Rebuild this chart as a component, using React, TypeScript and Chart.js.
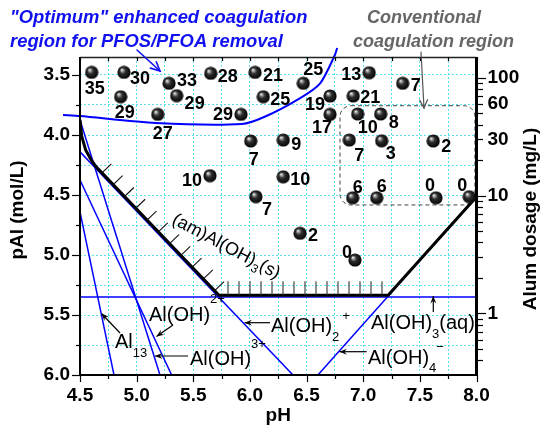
import React, { useEffect, useRef } from 'react';
import { Chart, registerables } from 'chart.js';

Chart.register(...registerables);

// ---------- data ----------
const pointPH = [4.603, 4.888, 5.286, 5.654, 6.045, 4.859, 5.353, 6.118, 5.186, 5.921, 6.007, 6.294, 5.647, 6.294,
  6.471, 7.053, 7.348, 6.707, 6.912, 6.707, 6.951, 7.154, 6.877, 7.163, 7.618, 6.907, 7.119, 7.642, 7.936, 6.053, 6.442, 6.927];
const pointPAl = [3.478, 3.478, 3.569, 3.486, 3.478, 3.681, 3.672, 3.681, 3.828, 3.828, 4.05, 4.042, 4.339, 4.348,
  3.569, 3.481, 3.569, 3.675, 3.675, 3.828, 3.825, 3.825, 4.042, 4.048, 4.05, 4.523, 4.523, 4.523, 4.514, 4.514, 4.819, 5.042];
const pointLabels = ['35', '30', '33', '28', '21', '29', '29', '25', '27', '29', '7', '9', '10', '10',
  '25', '13', '7', '19', '21', '17', '10', '8', '7', '3', '2', '6', '6', '0', '0', '7', '2', '0'];
// label placement relative to its marker (style, px)
const labelOffsets = [[3, 16], [16, 6], [18, -3], [17, 3], [18, 3], [4, 15], [18, 7], [17, 2], [5, 19], [-18, 0], [3, 18], [13, 4], [-18, 4], [17, 2],
  [10, -14], [-18, 1], [13, 2], [-15, 8], [17, 1], [-8, 13], [10, 13], [13, 8], [10, 15], [9, 12], [13, 5], [5, -11], [5, -12], [-6, -13], [-7, -12], [11, 12], [13, 2], [-8, -8]];

const al13PH = [4.5, 4.8];
const al13PAl = [4.64, 6.0];
const al3PH = [4.5, 5.206];
const al3PAl = [3.875, 6.0];
const alOH2PH = [4.5, 5.309];
const alOH2PAl = [4.375, 6.0];
const alOH2pPH = [4.5, 6.38];
const alOH2pPAl = [4.14, 6.0];
const alOH4PH = [6.6, 8.0];
const alOH4PAl = [6.0, 4.517];
const alOH3aqPH = [4.5, 8.0];
const alOH3aqPAl = [5.35, 5.35];
const boundaryPH = [4.5, 4.515, 4.55, 4.6, 4.645, 5.727, 7.22, 8.0];
const boundaryPAl = [3.875, 4.01, 4.125, 4.21, 4.268, 5.335, 5.335, 4.515];
const optimumPH = [4.35, 4.5, 5.17, 5.93, 6.13, 6.44, 6.62, 6.75, 6.77];
const optimumPAl = [3.833, 3.842, 3.9, 3.908, 3.848, 3.694, 3.569, 3.333, 3.275];
const conventionalBoxPH = [6.795, 7.986];
const conventionalBoxPAl = [3.756, 4.583];

const xTicks = [4.5, 4.75, 5.0, 5.25, 5.5, 5.75, 6.0, 6.25, 6.5, 6.75, 7.0, 7.25, 7.5, 7.75, 8.0];
const yTicks = [3.5, 3.75, 4.0, 4.25, 4.5, 4.75, 5.0, 5.25, 5.5, 5.75, 6.0];
const doseTicks = [0.4, 0.5, 0.6, 0.7, 0.8, 0.9, 1, 2, 3, 4, 5, 6, 7, 8, 9, 10, 20, 30, 40, 50, 60, 70, 80, 90, 100];
const doseLabels = [1, 10, 30, 60, 100];
const doseMajor = [1, 10, 100];

const FONT = '"Liberation Sans", Arial, Helvetica, sans-serif';
const BLUE = '#0000ff';

const zip = (xs: number[], ys: number[]) => xs.map((x, i) => ({ x, y: ys[i] }));
const isHalf = (v: number) => Math.abs(v * 2 - Math.round(v * 2)) < 1e-6;

type Part = [string, number, number, number?];
function drawRich(ctx: CanvasRenderingContext2D, x: number, y: number, parts: Part[]) {
  let cx = x;
  ctx.textAlign = 'left';
  ctx.textBaseline = 'alphabetic';
  for (const [t, size, dy, gap] of parts) {
    cx += gap || 0;
    ctx.font = `${size}px ${FONT}`;
    ctx.fillText(t, cx, y + dy);
    cx += ctx.measureText(t).width;
  }
}

function arrowFilled(ctx: CanvasRenderingContext2D, x1: number, y1: number, x2: number, y2: number, color = '#000') {
  ctx.save();
  ctx.strokeStyle = color; ctx.fillStyle = color; ctx.lineWidth = 1.2;
  ctx.beginPath(); ctx.moveTo(x1, y1); ctx.lineTo(x2, y2); ctx.stroke();
  const a = Math.atan2(y2 - y1, x2 - x1);
  const h = 8;
  ctx.beginPath();
  ctx.moveTo(x2, y2);
  ctx.lineTo(x2 - h * Math.cos(a - 0.38), y2 - h * Math.sin(a - 0.38));
  ctx.lineTo(x2 - h * 0.6 * Math.cos(a), y2 - h * 0.6 * Math.sin(a));
  ctx.lineTo(x2 - h * Math.cos(a + 0.38), y2 - h * Math.sin(a + 0.38));
  ctx.closePath(); ctx.fill();
  ctx.restore();
}

function arrowOpen(ctx: CanvasRenderingContext2D, x1: number, y1: number, x2: number, y2: number, color: string, w: number, h = 10) {
  ctx.save();
  ctx.strokeStyle = color; ctx.lineWidth = w; ctx.lineCap = 'round';
  ctx.beginPath(); ctx.moveTo(x1, y1); ctx.lineTo(x2, y2); ctx.stroke();
  const a = Math.atan2(y2 - y1, x2 - x1);
  ctx.beginPath();
  ctx.moveTo(x2 - h * Math.cos(a - 0.45), y2 - h * Math.sin(a - 0.45));
  ctx.lineTo(x2, y2);
  ctx.lineTo(x2 - h * Math.cos(a + 0.45), y2 - h * Math.sin(a + 0.45));
  ctx.stroke();
  ctx.restore();
}

function makeSphere(): HTMLCanvasElement {
  const c = document.createElement('canvas');
  const s = 14;
  c.width = s; c.height = s;
  const g = c.getContext('2d')!;
  const grad = g.createRadialGradient(4.8, 4.4, 0.2, 7, 7, 7);
  grad.addColorStop(0, '#ffffff');
  grad.addColorStop(0.14, '#a8a8a8');
  grad.addColorStop(0.42, '#2e2e2e');
  grad.addColorStop(1, '#000000');
  g.fillStyle = grad;
  g.beginPath(); g.arc(7, 7, 6.6, 0, Math.PI * 2); g.fill();
  return c;
}

const overlay = {
  id: 'overlay',
  beforeDatasetsDraw(chart: any) {
    const { ctx, scales } = chart;
    const x = scales.x, y = scales.y;
    // dashed conventional box
    const x1 = x.getPixelForValue(conventionalBoxPH[0]);
    const x2 = x.getPixelForValue(conventionalBoxPH[1]);
    const y1 = y.getPixelForValue(conventionalBoxPAl[0]);
    const y2 = y.getPixelForValue(conventionalBoxPAl[1]);
    ctx.save();
    ctx.strokeStyle = '#444'; ctx.lineWidth = 1; ctx.setLineDash([4, 3]);
    ctx.beginPath();
    (ctx as any).roundRect(x1, y1, x2 - x1, y2 - y1, 11);
    ctx.stroke();
    ctx.restore();
  },
  afterDraw(chart: any) {
    const { ctx, scales, chartArea } = chart;
    const sx = scales.x, sy = scales.y, s2 = scales.y2;
    const { left, right, top, bottom } = chartArea;

    // hatching along the solubility boundary
    const px = boundaryPH.map((v) => sx.getPixelForValue(v));
    const py = boundaryPAl.map((v) => sy.getPixelForValue(v));
    ctx.save();
    ctx.strokeStyle = '#111'; ctx.lineWidth = 1.1;
    {
      const ax = px[4], ay = py[4], bx = px[5], by = py[5];
      const len = Math.hypot(bx - ax, by - ay);
      const dx = (bx - ax) / len, dy = (by - ay) / len;
      const nx = dy, ny = -dx;
      for (let d = 8; d < len - 6; d += 16.3) {
        const hx = ax + dx * d, hy = ay + dy * d;
        ctx.beginPath(); ctx.moveTo(hx, hy); ctx.lineTo(hx + nx * 13, hy + ny * 13); ctx.stroke();
      }
    }
    {
      const ax = px[5], bx = px[6], yy = py[5];
      ctx.strokeStyle = '#333';
      for (let xx = ax + 9; xx < bx - 5; xx += 11) {
        ctx.beginPath(); ctx.moveTo(xx, yy); ctx.lineTo(xx, yy - 14); ctx.stroke();
      }
    }
    ctx.restore();

    // frame
    ctx.save();
    ctx.lineWidth = 1.5; ctx.strokeStyle = '#222';
    ctx.beginPath(); ctx.moveTo(left, top + 0.5); ctx.lineTo(right, top + 0.5); ctx.stroke();
    ctx.strokeStyle = '#000';
    ctx.lineWidth = 2;
    ctx.beginPath(); ctx.moveTo(left, top); ctx.lineTo(left, bottom); ctx.stroke();
    ctx.beginPath(); ctx.moveTo(left - 1, bottom); ctx.lineTo(right, bottom); ctx.stroke();
    ctx.lineWidth = 3;
    ctx.beginPath(); ctx.moveTo(right, top); ctx.lineTo(right, bottom + 1); ctx.stroke();
    // ticks
    ctx.lineWidth = 1.2;
    for (const v of xTicks) {
      const xx = Math.round(sx.getPixelForValue(v)) + 0.5;
      const L = isHalf(v) ? 7 : 4;
      ctx.beginPath(); ctx.moveTo(xx, bottom); ctx.lineTo(xx, bottom + L); ctx.stroke();
      ctx.beginPath(); ctx.moveTo(xx, top); ctx.lineTo(xx, top + 4); ctx.stroke();
    }
    for (const v of yTicks) {
      const yy = Math.round(sy.getPixelForValue(v)) + 0.5;
      const L = isHalf(v) ? 8 : 4;
      ctx.beginPath(); ctx.moveTo(left - L, yy); ctx.lineTo(left, yy); ctx.stroke();
    }
    for (const v of doseTicks) {
      const yy = Math.round(s2.getPixelForValue(v)) + 0.5;
      const L = doseMajor.includes(v) ? 8 : 5;
      ctx.beginPath(); ctx.moveTo(right, yy); ctx.lineTo(right + 1.5 + L, yy); ctx.stroke();
    }
    ctx.restore();

    // point labels
    ctx.save();
    ctx.fillStyle = '#000';
    ctx.font = `bold 18px ${FONT}`;
    ctx.textAlign = 'center';
    ctx.textBaseline = 'middle';
    pointPH.forEach((v, i) => {
      const xx = sx.getPixelForValue(v);
      const yy = sy.getPixelForValue(pointPAl[i]);
      const [dx, dy] = labelOffsets[i];
      ctx.fillText(pointLabels[i], xx + dx, yy + dy + 1);
    });
    ctx.restore();

    // species labels
    ctx.save();
    ctx.fillStyle = '#000';
    drawRich(ctx, 149, 321, [['Al(OH)', 20, 0], ['2+', 13, -18]]);
    drawRich(ctx, 115, 348, [['Al', 20, 0], ['13', 13, 9]]);
    drawRich(ctx, 190, 365, [['Al(OH)', 20, 0], ['3+', 13, -17]]);
    drawRich(ctx, 271, 332, [['Al(OH)', 20, 0], ['2', 13, 9], ['+', 13, -12, 3]]);
    drawRich(ctx, 371, 329, [['Al(OH)', 20, 0], ['3', 13, 9], ['(aq)', 20, 0]]);
    drawRich(ctx, 368, 364, [['Al(OH)', 20, 0], ['4', 13, 8], ['\u2212', 13, -13]]);
    // rotated solid label
    ctx.save();
    ctx.translate(171, 223);
    ctx.rotate((28 * Math.PI) / 180);
    drawRich(ctx, 0, 0, [['(am)Al(OH)', 18, 0], ['3', 12, 5], ['(s)', 18, 0]]);
    ctx.restore();
    ctx.restore();

    arrowFilled(ctx, 120, 333, 101.5, 313.5);
    arrowFilled(ctx, 173, 325, 156.5, 336.5);
    arrowFilled(ctx, 188, 356, 155, 356);
    arrowFilled(ctx, 270, 322.7, 244.5, 322.7);
    arrowFilled(ctx, 433.3, 312, 433.3, 296);
    arrowFilled(ctx, 366.7, 351.7, 339.5, 351.7);

    // titles
    ctx.save();
    ctx.textAlign = 'left';
    ctx.textBaseline = 'alphabetic';
    ctx.font = `italic bold 18.4px ${FONT}`;
    ctx.fillStyle = '#1010f0';
    ctx.fillText('"Optimum" enhanced coagulation', 10, 23);
    ctx.fillText('region for PFOS/PFOA removal', 10, 47);
    ctx.fillStyle = '#666666';
    ctx.font = `italic bold 18px ${FONT}`;
    ctx.fillText('Conventional', 367, 23);
    ctx.fillText('coagulation region', 353, 47);
    ctx.restore();
    arrowOpen(ctx, 137, 50, 160, 71, '#1010f0', 1.6, 10);
    arrowOpen(ctx, 421, 52, 424, 108, '#555', 1.2, 9);

    // axis titles
    ctx.save();
    ctx.fillStyle = '#000';
    ctx.font = `bold 19px ${FONT}`;
    ctx.textAlign = 'center';
    ctx.textBaseline = 'alphabetic';
    ctx.fillText('pH', (left + right) / 2, 421);
    ctx.save();
    ctx.translate(23, 210);
    ctx.rotate(-Math.PI / 2);
    ctx.fillText('pAl (mol/L)', 0, 0);
    ctx.restore();
    ctx.save();
    ctx.translate(536, 219);
    ctx.rotate(-Math.PI / 2);
    ctx.fillText('Alum dosage (mg/L)', 0, 0);
    ctx.restore();
    ctx.restore();
  },
};

export default function App() {
  const ref = useRef<HTMLCanvasElement | null>(null);
  useEffect(() => {
    document.body.style.margin = '0';
    const canvas = ref.current!;
    const sphere = makeSphere();
    const line = (xs: number[], ys: number[], color: string, width: number, order: number, extra: any = {}) => ({
      data: zip(xs, ys), showLine: true, borderColor: color, backgroundColor: color, borderWidth: width,
      pointRadius: 0, pointHoverRadius: 0, order, tension: 0, ...extra,
    });
    const tickFont = { family: FONT, size: 19, weight: 'bold' as const };
    const gridColor = 'rgba(60, 220, 235, 0.85)';
    const chart = new Chart(canvas, {
      type: 'scatter',
      data: {
        datasets: [
          { data: zip(pointPH, pointPAl), pointStyle: sphere as any, pointRadius: 7, pointHoverRadius: 7, order: 0 } as any,
          line(boundaryPH, boundaryPAl, '#000', 3, 1),
          line(al13PH, al13PAl, BLUE, 1.5, 2),
          line(al3PH, al3PAl, BLUE, 1.5, 2),
          line(alOH2PH, alOH2PAl, BLUE, 1.5, 2),
          line(alOH2pPH, alOH2pPAl, BLUE, 1.5, 2),
          line(alOH4PH, alOH4PAl, BLUE, 1.5, 2),
          line(alOH3aqPH, alOH3aqPAl, BLUE, 1.5, 2),
          line(optimumPH, optimumPAl, BLUE, 2, 2, { clip: false, tension: 0.25 }),
        ],
      },
      options: {
        responsive: false,
        animation: false,
        events: [],
        layout: { padding: { top: 57, left: 0, right: 0, bottom: 0 } },
        plugins: { legend: { display: false }, tooltip: { enabled: false } },
        scales: {
          x: {
            type: 'linear', min: 4.5, max: 8.0,
            afterBuildTicks: (s: any) => { s.ticks = xTicks.map((value) => ({ value })); },
            afterFit: (s: any) => { s.height = 53; },
            ticks: { callback: (v: any) => (isHalf(Number(v)) ? Number(v).toFixed(1) : ''), font: tickFont, color: '#000', padding: 9, autoSkip: false, maxRotation: 0 },
            grid: { color: gridColor, lineWidth: 1, drawTicks: false },
            border: { display: false, dash: [2, 2] },
          },
          y: {
            type: 'linear', position: 'left', reverse: true, min: 3.35, max: 6.0,
            afterBuildTicks: (s: any) => { s.ticks = yTicks.map((value) => ({ value })); },
            afterFit: (s: any) => { s.width = 80; },
            ticks: { callback: (v: any) => (isHalf(Number(v)) ? Number(v).toFixed(1) : ''), font: tickFont, color: '#000', padding: 10, autoSkip: false },
            grid: { color: gridColor, lineWidth: 1, drawTicks: false },
            border: { display: false, dash: [2, 2] },
          },
          y2: {
            type: 'logarithmic', position: 'right', min: 0.325, max: 150,
            afterBuildTicks: (s: any) => { s.ticks = doseTicks.map((value) => ({ value })); },
            afterFit: (s: any) => { s.width = 63.5; },
            ticks: { callback: (v: any) => (doseLabels.includes(Number(v)) ? String(v) : ''), font: tickFont, color: '#000', padding: 11, autoSkip: false },
            grid: { display: false, drawTicks: false },
            border: { display: false },
          },
        },
      } as any,
      plugins: [overlay as any],
    });
    return () => chart.destroy();
  }, []);
  return (
    <div style={{ position: 'absolute', left: 0, top: 0, width: 540, height: 428 }}>
      <canvas ref={ref} width={540} height={428} style={{ display: 'block', width: 540, height: 428 }} />
    </div>
  );
}
